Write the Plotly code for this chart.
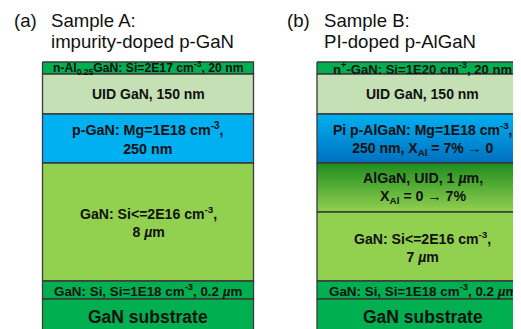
import plotly.graph_objects as go

# ---- data ----
panel_tags = ["(a)", "(b)"]
title_line1 = ["Sample A:", "Sample B:"]
title_line2 = ["impurity-doped p-GaN", "PI-doped p-AlGaN"]

# layer labels, top to bottom
a_labels = [
    "n-Al<sub>0.25</sub>GaN: Si=2E17 cm<sup>-3</sup>, 20 nm",
    "UID GaN, 150 nm",
    "p-GaN: Mg=1E18 cm<sup>-3</sup>,<br>250 nm",
    "GaN: Si<=2E16 cm<sup>-3</sup>,<br>8 <i>µ</i>m",
    "GaN: Si, Si=1E18 cm<sup>-3</sup>, 0.2 <i>µ</i>m",
    "GaN substrate",
]
b_labels = [
    "n<sup>+</sup>-GaN: Si=1E20 cm<sup>-3</sup>, 20 nm",
    "UID GaN, 150 nm",
    "Pi p-AlGaN: Mg=1E18 cm<sup>-3</sup>,<br>250 nm, X<sub>Al</sub> = 7% → 0",
    "AlGaN, UID, 1 <i>µ</i>m,<br>X<sub>Al</sub> = 0 → 7%",
    "GaN: Si<=2E16 cm<sup>-3</sup>,<br>7 <i>µ</i>m",
    "GaN: Si, Si=1E18 cm<sup>-3</sup>, 0.2 <i>µ</i>m",
    "GaN substrate",
]
# layer boundaries (diagram units, top to bottom)
a_bounds = [62, 74, 114, 163, 281, 299, 345]
b_bounds = [62, 74, 114, 163, 212, 281, 299, 345]
# fill colours (top colour, bottom colour)
a_colors = [("#00B050", "#00B050"), ("#C5E0B4", "#C5E0B4"), ("#00B0F0", "#00B0F0"),
            ("#92D050", "#92D050"), ("#00B050", "#00B050"), ("#00B050", "#00B050")]
b_colors = [("#00B050", "#00B050"), ("#C5E0B4", "#C5E0B4"), ("#00B0F0", "#0070C0"),
            ("#1E8C1E", "#92D050"), ("#92D050", "#92D050"), ("#00B050", "#00B050"),
            ("#00B050", "#00B050")]
a_sizes = [12.2, 14, 14.3, 14.1, 13.4, 17.5]
b_sizes = [13.1, 14, 14, 14.2, 14.1, 13.4, 17.5]

a_x = (42.5, 253.5)
b_x = (317, 528)

OFF = 8  # page body margin offset

fig = go.Figure()
annotations = []


def add_stack(xr, bounds, colors, labels, sizes):
    x0, x1 = xr
    for i, lab in enumerate(labels):
        y0, y1 = bounds[i], bounds[i + 1]
        c0, c1 = colors[i]
        tr = dict(
            x=[x0, x1, x1, x0, x0], y=[y0, y0, y1, y1, y0],
            mode="lines", fill="toself",
            line=dict(color="#3A3A3A", width=1.3),
            hoverinfo="skip", showlegend=False,
        )
        if c0 != c1:
            tr["fillgradient"] = dict(type="vertical", start=y0, stop=y1,
                                      colorscale=[[0, c0], [1, c1]])
        else:
            tr["fillcolor"] = c0
        fig.add_trace(go.Scatter(**tr))
        yc = (y0 + y1) / 2 if i < len(labels) - 1 else 317
        annotations.append(dict(
            x=(x0 + x1) / 2, y=yc, xref="x", yref="y", text="<b>" + lab + "</b>",
            showarrow=False, xanchor="center", yanchor="middle",
            font=dict(size=sizes[i], color="#111111", family="Liberation Sans, Arial"),
        ))


add_stack(a_x, a_bounds, a_colors, a_labels, a_sizes)
add_stack(b_x, b_bounds, b_colors, b_labels, b_sizes)

tag_x = [12, 285]
title_x = [49, 322]
for k in range(2):
    tf = dict(size=18.6, color="#111111", family="Liberation Sans, Arial")
    annotations.append(dict(x=tag_x[k], y=20, xref="x", yref="y", text=panel_tags[k],
                            showarrow=False, xanchor="left", yanchor="middle", font=tf))
    annotations.append(dict(x=title_x[k], y=20, xref="x", yref="y", text=title_line1[k],
                            showarrow=False, xanchor="left", yanchor="middle", font=tf))
    annotations.append(dict(x=title_x[k], y=41, xref="x", yref="y", text=title_line2[k],
                            showarrow=False, xanchor="left", yanchor="middle", font=tf))

fig.update_layout(
    width=521, height=329,
    margin=dict(l=0, r=0, t=0, b=0),
    paper_bgcolor="white", plot_bgcolor="white",
    xaxis=dict(range=[OFF, 521 + OFF], visible=False, fixedrange=True),
    yaxis=dict(range=[329 + OFF, OFF], visible=False, fixedrange=True),
    annotations=annotations,
)
fig.write_html("out.html")
